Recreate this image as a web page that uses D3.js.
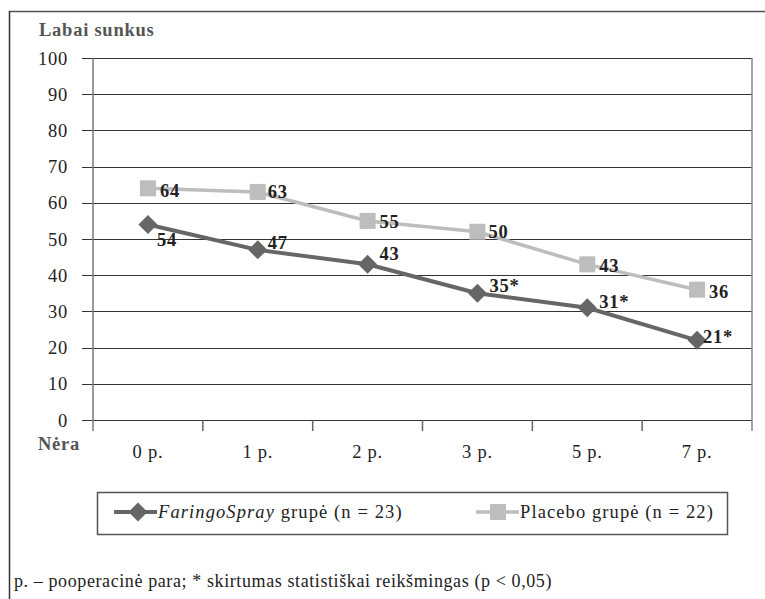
<!DOCTYPE html>
<html>
<head>
<meta charset="utf-8">
<script src="https://cdn.jsdelivr.net/npm/d3@7"></script>
<style>
  html, body { margin: 0; padding: 0; background: #fff; }
  svg { display: block; }
  text { font-family: "Liberation Serif", "Times New Roman", serif; }
</style>
</head>
<body>
<svg id="chart" width="765" height="599"></svg>
<script>
// ---- data ----
const categories = ["0 p.", "1 p.", "2 p.", "3 p.", "5 p.", "7 p."];
const faringoValues = [54, 47, 43, 35, 31, 22];
const faringoLabels = ["54", "47", "43", "35*", "31*", "21*"];
const placeboValues = [64, 63, 55, 52, 43, 36];
const placeboLabels = ["64", "63", "55", "50", "43", "36"];
const yTicks = [0, 10, 20, 30, 40, 50, 60, 70, 80, 90, 100];
const seriesNames = ["FaringoSpray", "Placebo"];
const legendSuffix = [" grupė (n = 23)", " grupė (n = 22)"];
const yTopLabel = "Labai sunkus";
const yBottomLabel = "Nėra";
const footnote = "p. – pooperacinė para; * skirtumas statistiškai reikšmingas (p < 0,05)";

// label offsets (styling, not data)
const faringoLabelOffsets = [[9, 21], [10, -1], [12, -4], [12, -1], [12, 0], [6, 3]];
const placeboLabelOffsets = [[12, 9], [10, 6], [12, 7], [11, 6], [12, 8], [12, 8]];

// ---- layout ----
const svg = d3.select("#chart");
const plotL = 93, plotR = 752, plotT = 58, plotB = 420;
const darkCol = "#666666", lightCol = "#bdbdbd";
const FS = 18.5, LS = "0.75px", LEG_LS = "1.1px";

const x = d3.scaleBand().domain(categories).range([plotL, plotR]).padding(0);
const y = d3.scaleLinear().domain([0, 100]).range([plotB, plotT]);
const cx = c => x(c) + x.bandwidth() / 2;

// outer frame (top & left)
svg.append("line").attr("x1", 9).attr("x2", 765).attr("y1", 11.5).attr("y2", 11.5)
  .attr("stroke", "#555").attr("stroke-width", 1.5);
svg.append("line").attr("x1", 9.5).attr("x2", 9.5).attr("y1", 11).attr("y2", 599)
  .attr("stroke", "#333").attr("stroke-width", 1.5);

// y axis with gridlines
const yAxis = d3.axisLeft(y).tickValues(yTicks).tickSizeInner(-(plotR - 82)).tickSizeOuter(0).tickPadding(14);
const yg = svg.append("g").attr("transform", "translate(82,0)").call(yAxis);
yg.select(".domain").remove();
yg.selectAll(".tick line").attr("stroke", "#333").attr("stroke-width", 1).attr("shape-rendering", "crispEdges");
yg.selectAll(".tick text").attr("font-size", FS).attr("fill", "#222").attr("dy", "0.33em")
  .style("letter-spacing", LS).attr("font-family", "Liberation Serif, serif");

// vertical axis lines
svg.append("line").attr("x1", plotL).attr("x2", plotL).attr("y1", plotT).attr("y2", 431)
  .attr("stroke", "#777").attr("stroke-width", 1.5);
svg.append("line").attr("x1", plotR).attr("x2", plotR).attr("y1", plotT).attr("y2", 431)
  .attr("stroke", "#888").attr("stroke-width", 1.5);

// category boundary ticks
svg.selectAll(".ctick").data(categories.slice(1)).enter().append("line")
  .attr("x1", d => x(d)).attr("x2", d => x(d)).attr("y1", plotB).attr("y2", 431)
  .attr("stroke", "#666").attr("stroke-width", 1.5);

// x axis labels
const xAxis = d3.axisBottom(x).tickSize(0).tickPadding(0);
const xg = svg.append("g").attr("transform", `translate(0,${plotB})`).call(xAxis);
xg.select(".domain").remove();
xg.selectAll(".tick text").attr("font-size", FS).attr("fill", "#222").attr("y", 38).attr("dy", 0)
  .style("letter-spacing", LS).attr("font-family", "Liberation Serif, serif");

// axis end labels
svg.append("text").attr("x", 39).attr("y", 36).attr("font-size", FS).attr("font-weight", "bold")
  .attr("fill", "#555").style("letter-spacing", LS).text(yTopLabel);
svg.append("text").attr("x", 38).attr("y", 450).attr("font-size", FS).attr("font-weight", "bold")
  .attr("fill", "#555").style("letter-spacing", LS).text(yBottomLabel);

// lines
const line = d3.line().x((d, i) => cx(categories[i])).y(d => y(d));
svg.append("path").datum(placeboValues).attr("d", line).attr("fill", "none")
  .attr("stroke", lightCol).attr("stroke-width", 3.5);
svg.append("path").datum(faringoValues).attr("d", line).attr("fill", "none")
  .attr("stroke", darkCol).attr("stroke-width", 4);

// markers
const sq = 16;
svg.selectAll(".psq").data(placeboValues).enter().append("rect")
  .attr("x", (d, i) => cx(categories[i]) - sq / 2).attr("y", d => y(d) - sq / 2)
  .attr("width", sq).attr("height", sq).attr("fill", lightCol);
const dm = 9.5;
svg.selectAll(".fdm").data(faringoValues).enter().append("path")
  .attr("d", (d, i) => {
    const px = cx(categories[i]), py = y(d);
    return `M${px},${py - dm}L${px + dm},${py}L${px},${py + dm}L${px - dm},${py}Z`;
  }).attr("fill", darkCol);

// data labels
svg.selectAll(".plab").data(placeboValues).enter().append("text")
  .attr("x", (d, i) => cx(categories[i]) + placeboLabelOffsets[i][0])
  .attr("y", (d, i) => y(d) + placeboLabelOffsets[i][1])
  .attr("font-size", FS).attr("font-weight", "bold").attr("fill", "#222").style("letter-spacing", LS)
  .text((d, i) => placeboLabels[i]);
svg.selectAll(".flab").data(faringoValues).enter().append("text")
  .attr("x", (d, i) => cx(categories[i]) + faringoLabelOffsets[i][0])
  .attr("y", (d, i) => y(d) + faringoLabelOffsets[i][1])
  .attr("font-size", FS).attr("font-weight", "bold").attr("fill", "#222").style("letter-spacing", LS)
  .text((d, i) => faringoLabels[i]);

// legend
svg.append("rect").attr("x", 97.5).attr("y", 492.5).attr("width", 630).attr("height", 42)
  .attr("fill", "none").attr("stroke", "#555").attr("stroke-width", 1.5);
const ly = 512;
// Faringo
svg.append("line").attr("x1", 114).attr("x2", 157).attr("y1", ly).attr("y2", ly)
  .attr("stroke", darkCol).attr("stroke-width", 4);
svg.append("path").attr("d", `M138,${ly - dm}L${138 + dm},${ly}L138,${ly + dm}L${138 - dm},${ly}Z`).attr("fill", darkCol);
const t1 = svg.append("text").attr("x", 158).attr("y", ly + 6).attr("font-size", FS).attr("fill", "#222")
  .style("letter-spacing", LEG_LS);
t1.append("tspan").attr("font-style", "italic").text(seriesNames[0]);
t1.append("tspan").text(legendSuffix[0]);
// Placebo
svg.append("line").attr("x1", 476).attr("x2", 519).attr("y1", ly).attr("y2", ly)
  .attr("stroke", lightCol).attr("stroke-width", 3.5);
svg.append("rect").attr("x", 498 - sq / 2).attr("y", ly - sq / 2).attr("width", sq).attr("height", sq).attr("fill", lightCol);
svg.append("text").attr("x", 520).attr("y", ly + 6).attr("font-size", FS).attr("fill", "#222")
  .style("letter-spacing", LEG_LS).text(seriesNames[1] + legendSuffix[1]);

// footnote
svg.append("text").attr("x", 14).attr("y", 587).attr("font-size", 18).attr("fill", "#222")
  .style("letter-spacing", "0.6px").text(footnote);
</script>
</body>
</html>
